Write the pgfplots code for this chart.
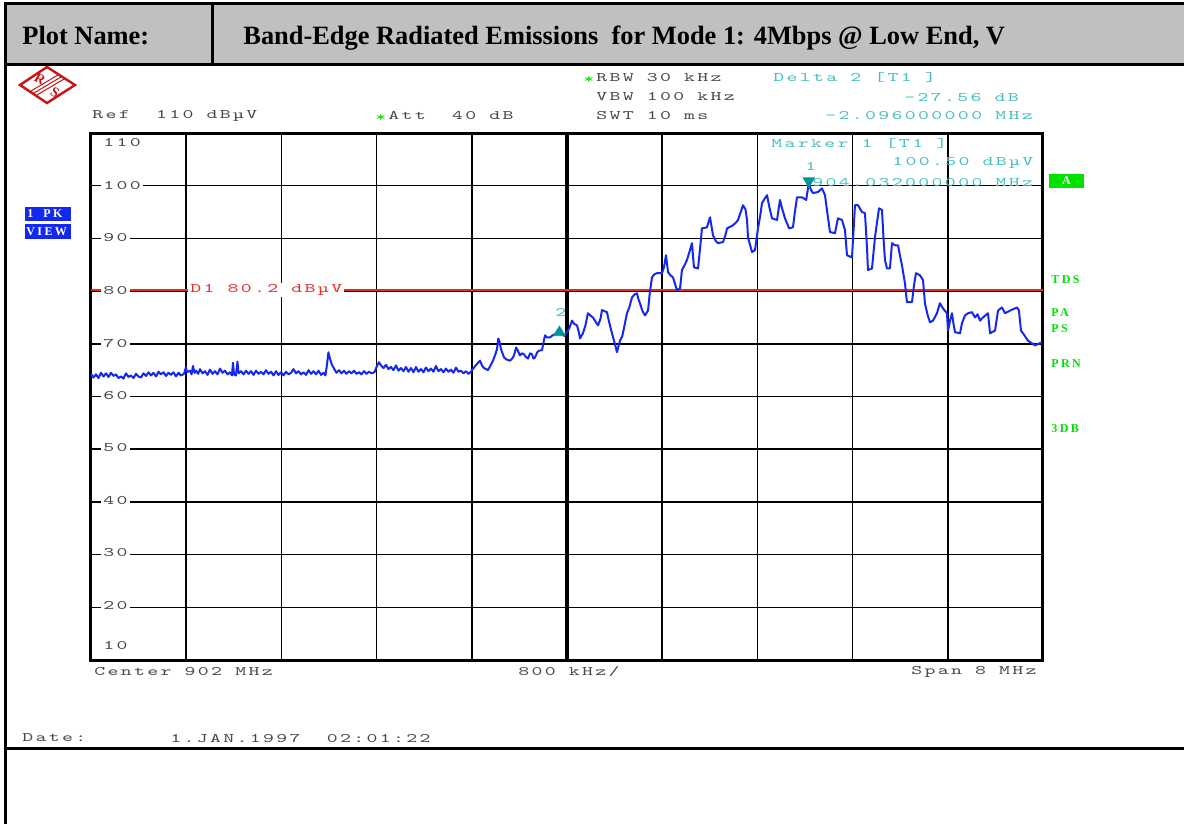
\documentclass[border=0pt]{standalone}
\usepackage{fontspec}
\setmainfont{Liberation Serif}
\newfontfamily\rsmonofam[Extension=.otf, FakeStretch=1.6, LetterSpace=18]{lmmono10-regular}
\newfontfamily\rsbfam[LetterSpace=20]{Liberation Serif}
\usepackage{pgfplots}
\pgfplotsset{compat=1.18}
\definecolor{hdr}{RGB}{192,192,192}
\definecolor{trace}{RGB}{20,40,240}
\definecolor{mk}{RGB}{70,190,190}
\definecolor{mkfill}{RGB}{0,150,150}
\definecolor{dline}{RGB}{235,40,40}
\definecolor{grn}{RGB}{0,225,0}
\definecolor{lbl}{RGB}{70,70,70}
\definecolor{rsred}{RGB}{200,20,20}
\newcommand{\rsm}{\rsmonofam\fontsize{6.5}{7}\selectfont}
\newcommand{\rsb}{\rsbfam\bfseries\fontsize{6}{7}\selectfont}
\newcommand{\SP}{\hspace*{6.55pt}}
\begin{document}
\begin{tikzpicture}
\path[use as bounding box] (0pt,0pt) rectangle (592pt,-412pt);
\begin{axis}[
  at={(45.5pt,-330pt)}, anchor=south west,
  scale only axis, width=476pt, height=263.5pt,
  xmin=898, xmax=906, ymin=10, ymax=110,
  xtick={898.8,899.6,900.4,901.2,902.0,902.8,903.6,904.4,905.2},
  ytick={20,30,40,50,60,70,80,90,100},
  xticklabels={}, yticklabels={}, major tick length=0pt,
  grid=major, major grid style={black, line width=0.75pt},
  axis line style={black, line width=1.5pt},
  clip=false,
]
\draw[black, line width=1.6pt] (axis cs:902,10) -- (axis cs:902,110);
\draw[dline, line width=1pt] (axis cs:898,80.2) -- (axis cs:906,80.2);
\addplot[trace, line width=1pt, no marks, line join=round] table {
x y
898.000 64.3
898.021 63.6
898.042 64.2
898.063 63.5
898.084 64.5
898.105 63.8
898.126 64.4
898.147 63.7
898.168 64.5
898.189 63.9
898.210 64.2
898.231 63.5
898.252 63.8
898.273 63.4
898.294 64.4
898.315 63.7
898.336 64.0
898.357 63.5
898.378 64.3
898.399 63.8
898.420 63.6
898.441 64.4
898.462 63.9
898.483 64.6
898.504 64.0
898.525 64.5
898.546 63.8
898.567 64.7
898.588 64.2
898.609 64.6
898.630 63.9
898.651 64.5
898.672 64.1
898.693 64.6
898.714 63.8
898.735 64.5
898.756 64.0
898.782 64.3
898.798 65.6
898.807 64.6
898.832 64.9
898.845 64.2
898.857 65.8
898.870 64.5
898.882 64.9
898.900 64.3
898.916 65.2
898.937 64.4
898.958 64.8
898.979 64.1
899.000 65.1
899.021 64.3
899.042 64.8
899.063 64.2
899.084 65.3
899.105 64.5
899.126 64.9
899.147 64.2
899.168 64.6
899.185 64.0
899.193 66.4
899.202 64.2
899.218 64.0
899.231 66.6
899.240 64.4
899.261 64.8
899.282 64.2
899.303 64.9
899.324 64.3
899.345 64.8
899.366 64.1
899.387 64.9
899.408 64.3
899.429 64.7
899.450 64.2
899.471 65.0
899.492 64.3
899.513 64.7
899.534 64.0
899.555 64.8
899.576 64.1
899.597 64.6
899.618 64.0
899.639 64.7
899.660 64.2
899.681 64.5
899.702 65.2
899.723 64.4
899.744 64.8
899.765 64.2
899.786 64.6
899.807 64.1
899.828 65.0
899.849 64.3
899.870 64.8
899.891 64.2
899.912 64.9
899.933 64.1
899.954 64.5
899.970 64.0
899.983 66.0
899.995 68.4
900.008 67.2
900.025 66.0
900.042 65.3
900.063 64.5
900.084 65.0
900.105 64.4
900.126 64.9
900.147 64.3
900.168 64.8
900.189 64.4
900.210 64.9
900.231 64.3
900.252 64.6
900.273 64.2
900.294 64.8
900.315 64.3
900.336 64.7
900.357 64.4
900.382 64.6
900.403 65.8
900.420 66.5
900.437 65.9
900.458 65.4
900.479 66.0
900.500 65.2
900.521 65.6
900.542 65.0
900.563 65.9
900.584 64.9
900.605 65.4
900.626 64.8
900.647 65.6
900.668 64.7
900.689 65.4
900.710 64.6
900.731 65.6
900.752 64.7
900.773 65.2
900.794 64.6
900.815 65.5
900.836 64.8
900.857 65.3
900.878 64.7
900.899 65.8
900.920 64.8
900.941 65.2
900.962 64.6
900.983 65.3
901.004 64.7
901.025 65.1
901.046 64.5
901.067 65.5
901.088 64.7
901.109 64.9
901.130 64.4
901.151 64.8
901.172 64.3
901.193 64.7
901.218 65.5
901.245 66.2
901.269 66.8
901.288 65.8
901.303 65.4
901.336 65.0
901.360 66.0
901.378 66.8
901.398 68.0
901.412 69.0
901.422 71.0
901.432 70.5
901.445 69.0
901.471 67.4
901.495 67.0
901.521 66.8
901.540 67.2
901.555 67.8
901.572 69.3
901.585 68.8
901.605 67.8
901.622 68.2
901.639 68.0
901.655 67.5
901.672 67.2
901.690 68.2
901.706 68.0
901.718 67.2
901.731 67.4
901.750 68.4
901.765 68.7
901.790 68.8
901.805 70.5
901.815 71.6
901.832 71.2
901.857 71.2
901.878 71.6
901.899 71.8
901.936 72.9
901.955 72.4
901.975 71.5
902.000 72.2
902.020 73.0
902.042 74.4
902.060 73.8
902.084 73.5
902.100 72.2
902.109 71.0
902.134 72.0
902.155 73.5
902.176 75.8
902.200 75.3
902.218 75.0
902.240 74.2
902.261 73.5
902.282 74.8
902.294 76.4
902.336 76.0
902.350 74.5
902.378 72.0
902.400 70.2
902.420 68.4
902.445 70.6
902.465 71.5
902.479 73.0
902.504 75.8
902.525 77.0
902.546 78.8
902.570 79.4
902.588 79.6
902.600 78.5
902.613 77.7
902.635 76.2
902.655 75.4
902.681 76.3
902.695 79.5
902.714 82.6
902.735 83.2
902.756 83.4
902.798 83.4
902.815 84.5
902.832 86.8
902.849 83.6
902.870 83.0
902.891 82.6
902.910 81.2
902.924 80.2
902.950 80.5
902.966 84.0
902.990 85.0
903.008 85.9
903.030 87.5
903.050 89.1
903.067 84.5
903.101 84.3
903.120 88.5
903.134 91.9
903.176 92.1
903.202 94.0
903.227 90.6
903.250 89.5
903.269 89.1
903.311 89.3
903.330 90.5
903.345 91.9
903.370 92.2
903.395 92.5
903.420 93.0
903.437 93.5
903.460 95.0
903.479 96.3
903.500 95.5
903.513 93.5
903.521 90.2
903.555 87.4
903.580 87.8
903.605 91.9
903.625 94.5
903.639 96.7
903.660 97.5
903.681 98.2
903.700 96.0
903.723 93.8
903.765 93.5
903.790 97.3
903.810 95.5
903.832 93.8
903.866 91.9
903.899 92.1
903.915 95.0
903.933 97.8
903.975 97.8
904.010 97.3
904.032 100.5
904.050 99.2
904.067 98.6
904.109 98.8
904.143 99.5
904.168 98.2
904.193 94.0
904.210 91.2
904.252 91.0
904.265 92.5
904.277 93.8
904.311 93.5
904.336 91.6
904.353 86.8
904.395 86.4
904.420 96.3
904.445 96.3
904.479 95.0
904.504 94.8
904.521 88.3
904.529 84.0
904.563 84.3
904.588 90.2
904.605 93.0
904.622 95.7
904.647 95.4
904.660 90.0
904.672 85.9
904.689 84.3
904.714 84.3
904.731 89.1
904.756 88.7
904.782 88.7
904.800 86.5
904.815 84.9
904.840 81.5
904.857 77.9
904.899 77.9
904.916 81.1
904.933 83.4
904.966 83.0
904.992 82.1
905.008 77.7
905.030 75.5
905.050 74.1
905.076 74.4
905.109 75.8
905.134 77.7
905.160 76.7
905.193 75.8
905.202 72.5
905.220 74.5
905.235 75.8
905.250 73.5
905.261 72.2
905.303 72.0
905.319 73.9
905.345 75.4
905.370 75.8
905.403 76.0
905.429 75.0
905.450 75.6
905.471 74.4
905.496 75.0
905.538 75.8
905.555 72.0
905.597 72.5
905.622 76.3
905.655 76.9
905.681 75.8
905.723 76.3
905.782 76.9
905.798 76.3
905.815 72.5
905.832 72.0
905.874 70.6
905.933 69.7
905.992 70.3
};
\addplot[only marks, mark=triangle*, mark size=3.2pt, mkfill, mark options={rotate=180, yshift=-1pt}] coordinates {(904.032,100.5)};
\addplot[only marks, mark=triangle*, mark size=3.2pt, mkfill, mark options={yshift=-2pt}] coordinates {(901.936,72.9)};
\end{axis}
\begin{scope}[x=0.5pt,y=-0.5pt]
% frame
\fill[hdr] (5,4) rectangle (1184,65);
\draw[line width=1.5pt] (5,824) -- (5,4) -- (1184,4);
\draw[line width=1.5pt] (5,65) -- (1184,65);
\draw[line width=1.5pt] (212,4) -- (212,65);
\draw[line width=1.5pt] (5,748) -- (1184,748);
\node[anchor=base west, inner sep=0pt, font=\bfseries\fontsize{13.2}{15}\selectfont] at (22,45) {Plot Name:};
\node[anchor=base west, inner sep=0pt, font=\bfseries\fontsize{13.2}{15}\selectfont] at (243,45) {Band-Edge Radiated Emissions~ for Mode 1: 4Mbps @ Low End, V};
% logo
\draw[rsred, line width=1.2pt] (20,85) -- (47,67) -- (75,85) -- (47,103) -- cycle;
\draw[rsred, line width=0.5pt] (34,93) -- (61,77);
\draw[rsred, line width=0.5pt] (37,95) -- (64,79);
\draw[rsred, line width=0.5pt] (31,91) -- (58,75);
\node[rsred, font=\bfseries\fontsize{7}{7}\selectfont, rotate=-30] at (40,79) {R};
\node[rsred, font=\bfseries\fontsize{7}{7}\selectfont, rotate=-30] at (55,92) {S};
% y labels
\foreach \v/\yy in {100/186,90/238,80/291,70/343,60/396,50/448,40/501,30/553,20/606}{
  \node[anchor=west, fill=white, inner sep=1pt, text=lbl, font=\rsm] at (101,\yy) {\v};
}
\node[anchor=west, inner sep=1pt, text=lbl, font=\rsm] at (101,143) {110};
\node[anchor=west, inner sep=1pt, text=lbl, font=\rsm] at (101,646) {10};
% header texts
\node[anchor=west, inner sep=0pt, text=lbl, font=\rsm] at (92,116) {Ref\SP\SP110\SP dBµV};
\node[anchor=west, inner sep=0pt, text=grn, font=\rsm] at (375,118) {*};
\node[anchor=west, inner sep=0pt, text=lbl, font=\rsm] at (388,116) {Att\SP\SP40\SP dB};
\node[anchor=west, inner sep=0pt, text=grn, font=\rsm] at (583,80) {*};
\node[anchor=west, inner sep=0pt, text=lbl, font=\rsm] at (596,78) {RBW\SP30\SP kHz};
\node[anchor=west, inner sep=0pt, text=lbl, font=\rsm] at (596,97) {VBW\SP100\SP kHz};
\node[anchor=west, inner sep=0pt, text=lbl, font=\rsm] at (596,116) {SWT\SP10\SP ms};
\node[anchor=west, inner sep=0pt, text=mk, font=\rsm] at (773,78) {Delta\SP2\SP[T1\SP]};
\node[anchor=west, inner sep=0pt, text=mk, font=\rsm] at (904,97) {-27.56\SP dB};
\node[anchor=west, inner sep=0pt, text=mk, font=\rsm] at (825,116) {-2.096000000\SP MHz};
\node[anchor=west, inner sep=0pt, text=mk, font=\rsm] at (771,144) {Marker\SP1\SP[T1\SP]};
\node[anchor=west, inner sep=0pt, text=mk, font=\rsm] at (805,166) {1};
\node[anchor=west, inner sep=0pt, text=mk, font=\rsm] at (892,163) {100.50\SP dBµV};
\node[anchor=west, inner sep=0pt, text=mk, font=\rsm] at (812,183) {904.032000000\SP MHz};
\node[anchor=west, inner sep=0pt, text=mk, font=\rsm] at (555,312) {2};
\node[anchor=west, inner sep=1pt, fill=white, text=dline, font=\rsm] at (188,290) {D1\SP80.2\SP dBµV};
% bottom texts
\node[anchor=west, inner sep=0pt, text=lbl, font=\rsm] at (94,672) {Center\SP902\SP MHz};
\node[anchor=west, inner sep=0pt, text=lbl, font=\rsm] at (518,672) {800\SP kHz/};
\node[anchor=west, inner sep=0pt, text=lbl, font=\rsm] at (911,672) {Span\SP8\SP MHz};
\node[anchor=west, inner sep=0pt, text=lbl, font=\rsm] at (22,738) {Date:};
\node[anchor=west, inner sep=0pt, text=lbl, font=\rsm] at (170,738) {1.JAN.1997\SP\SP02:01:22};
% left boxes
\fill[trace] (25,207) rectangle (71,221);
\fill[trace] (25,224) rectangle (71,239);
\node[anchor=west, inner sep=0pt, text=white, font=\rsb] at (27,214) {1\hspace{5pt}PK};
\node[anchor=west, inner sep=0pt, text=white, font=\rsb] at (26,231.5) {VIEW};
% right labels
\fill[grn] (1049,174) rectangle (1084,188);
\node[text=white, font=\rsb] at (1066.5,181) {A};
\node[anchor=west, inner sep=0pt, text=grn, font=\rsb] at (1051,280) {TDS};
\node[anchor=west, inner sep=0pt, text=grn, font=\rsb] at (1051,313) {PA};
\node[anchor=west, inner sep=0pt, text=grn, font=\rsb] at (1051,329) {PS};
\node[anchor=west, inner sep=0pt, text=grn, font=\rsb] at (1051,364) {PRN};
\node[anchor=west, inner sep=0pt, text=grn, font=\rsb] at (1051,429) {3DB};
\end{scope}
\end{tikzpicture}
\end{document}
